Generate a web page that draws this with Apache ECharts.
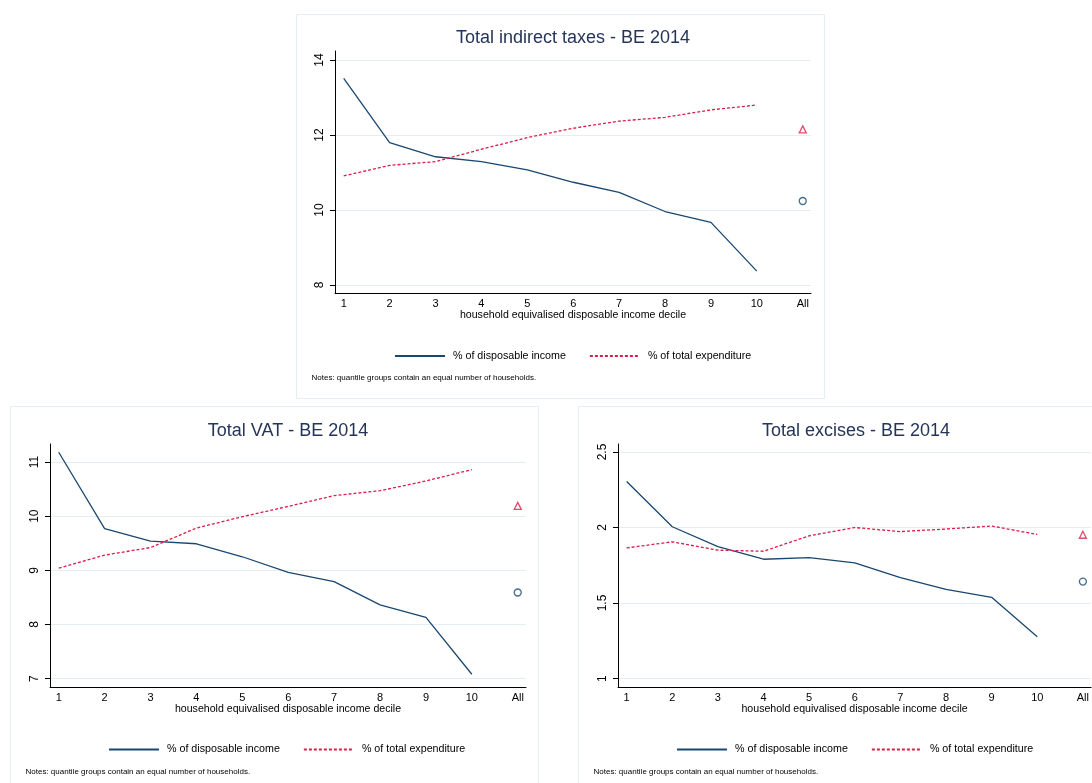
<!DOCTYPE html>
<html>
<head>
<meta charset="utf-8">
<script src="https://cdn.jsdelivr.net/npm/echarts@6/dist/echarts.min.js"></script>
<style>
html,body{margin:0;padding:0;background:#fff;}
#c{width:1092px;height:783px;}
</style>
</head>
<body>
<div id="c"></div>
<script>
// ---- data ----
var deciles = [1, 2, 3, 4, 5, 6, 7, 8, 9, 10];
var xTickValues = [1, 2, 3, 4, 5, 6, 7, 8, 9, 10, 11];
var xTickLabels = ['1', '2', '3', '4', '5', '6', '7', '8', '9', '10', 'All'];
var allPosition = 11;

var titles = ['Total indirect taxes - BE 2014', 'Total VAT - BE 2014', 'Total excises - BE 2014'];
var legendNames = ['% of disposable income', '% of total expenditure'];
var xAxisTitle = 'household equivalised disposable income decile';
var noteText = 'Notes: quantile groups contain an equal number of households.';

var indirectIncome = [13.51, 11.80, 11.42, 11.29, 11.07, 10.74, 10.47, 9.96, 9.67, 8.37];
var indirectExpend = [10.91, 11.19, 11.29, 11.62, 11.93, 12.18, 12.37, 12.47, 12.67, 12.80];
var indirectAllIncome = 10.24;
var indirectAllExpend = 12.15;
var indirectYTicks = [8, 10, 12, 14];

var vatIncome = [11.18, 9.77, 9.54, 9.49, 9.25, 8.96, 8.79, 8.36, 8.13, 7.08];
var vatExpend = [9.04, 9.28, 9.42, 9.78, 9.99, 10.18, 10.38, 10.47, 10.65, 10.86];
var vatAllIncome = 8.59;
var vatAllExpend = 10.19;
var vatYTicks = [7, 8, 9, 10, 11];

var excIncome = [2.305, 2.005, 1.874, 1.79, 1.80, 1.766, 1.668, 1.59, 1.538, 1.277];
var excExpend = [1.865, 1.905, 1.85, 1.843, 1.945, 2.0, 1.973, 1.99, 2.01, 1.954];
var excAllIncome = 1.642;
var excAllExpend = 1.952;
var excYTicks = [1, 1.5, 2, 2.5];

// ---- layout / style ----
var FONT = '"Liberation Sans", Arial, Helvetica, sans-serif';
var NAVY = '#1a476f';
var RED = '#d81e4a';
var GRID = '#e4edf0';
var FRAME = '#e6eef1';

var panels = [
  {px: 296, py: 14, gl: 335, gt: 51, gh: 242, ymin: 7.787, ymax: 14.24, ticks: indirectYTicks,
   inc: indirectIncome, exp: indirectExpend, ai: indirectAllIncome, ae: indirectAllExpend},
  {px: 10, py: 406, gl: 50, gt: 444, gh: 243, ymin: 6.844, ymax: 11.333, ticks: vatYTicks,
   inc: vatIncome, exp: vatExpend, ai: vatAllIncome, ae: vatAllExpend},
  {px: 578, py: 406, gl: 618, gt: 444, gh: 243, ymin: 0.944, ymax: 2.553, ticks: excYTicks,
   inc: excIncome, exp: excExpend, ai: excAllIncome, ae: excAllExpend}
];
var GW = 476;

function pairs(xs, ys) { return xs.map(function (x, i) { return [x, ys[i]]; }); }

var grid = [], xAxis = [], yAxis = [], series = [], title = [], legend = [], graphic = [];

panels.forEach(function (p, i) {
  grid.push({left: p.gl, top: p.gt, width: GW, height: p.gh, containLabel: false});
  xAxis.push({
    type: 'value', gridIndex: i, min: 0.81, max: 11.18,
    axisLine: {show: true, lineStyle: {color: '#000', width: 1}},
    axisTick: {show: false},
    splitLine: {show: false},
    axisLabel: {
      customValues: xTickValues, margin: 5, fontSize: 11, color: '#000', fontFamily: FONT,
      formatter: function (v) { var k = xTickValues.indexOf(v); return k >= 0 ? xTickLabels[k] : ''; }
    },
    name: xAxisTitle, nameLocation: 'middle', nameGap: 17,
    nameTextStyle: {fontSize: 10.6, color: '#000', fontFamily: FONT}
  });
  yAxis.push({
    type: 'value', gridIndex: i, min: p.ymin, max: p.ymax,
    axisLine: {show: true, lineStyle: {color: '#000', width: 1}},
    axisTick: {show: true, customValues: p.ticks, length: 5, inside: false, lineStyle: {color: '#000'}},
    splitLine: {show: true, lineStyle: {color: GRID, width: 1}},
    axisLabel: {customValues: p.ticks, rotate: 90, margin: 9, fontSize: 12, color: '#000', fontFamily: FONT,
      formatter: function (v) { return String(v); }}
  });
  series.push({
    name: legendNames[0], type: 'line', xAxisIndex: i, yAxisIndex: i,
    data: pairs(deciles, p.inc), symbol: 'none', silent: true,
    lineStyle: {color: NAVY, width: 1.3}, itemStyle: {color: NAVY}
  });
  series.push({
    name: legendNames[1], type: 'line', xAxisIndex: i, yAxisIndex: i,
    data: pairs(deciles, p.exp), symbol: 'none', silent: true,
    lineStyle: {color: RED, width: 1.3, type: [3, 2]}, itemStyle: {color: RED}
  });
  series.push({
    name: 'All income', type: 'scatter', xAxisIndex: i, yAxisIndex: i,
    data: [[allPosition, p.ai]], symbol: 'circle', symbolSize: 7, silent: true,
    itemStyle: {color: '#fff', borderColor: NAVY, borderWidth: 1.3}
  });
  series.push({
    name: 'All expenditure', type: 'scatter', xAxisIndex: i, yAxisIndex: i,
    data: [[allPosition, p.ae]], symbol: 'triangle', symbolSize: 7, silent: true,
    itemStyle: {color: '#fff', borderColor: RED, borderWidth: 1.3}
  });
  title.push({
    text: titles[i], left: p.gl + GW / 2, top: p.py + (i === 0 ? 15.5 : 16.5), textAlign: 'center', padding: 0,
    textStyle: {fontSize: 18, fontWeight: 'normal', color: '#25355a', fontFamily: FONT}
  });
  legend.push({
    data: legendNames, left: p.px + 98, top: p.py + (i === 0 ? 336.5 : 338), orient: 'horizontal',
    itemWidth: 50, itemHeight: 10, itemGap: 23, padding: 0, selectedMode: false,
    itemStyle: {opacity: 0},
    textStyle: {fontSize: 10.7, color: '#000', fontFamily: FONT, padding: [0, 0, 0, 3]}
  });
  graphic.push({
    type: 'rect', silent: true,
    shape: {x: p.px + 0.5, y: p.py + 0.5, width: 528, height: 384},
    style: {fill: 'none', stroke: FRAME, lineWidth: 1}
  });
  graphic.push({
    type: 'text', silent: true, x: p.px + 15.5, y: p.py + (i === 0 ? 364 : 365.7),
    style: {text: noteText, fontSize: 8, fill: '#000', fontFamily: FONT, verticalAlign: 'middle', align: 'left'}
  });
});

var chart = echarts.init(document.getElementById('c'), null, {renderer: 'canvas'});
chart.setOption({
  animation: false,
  backgroundColor: '#fff',
  title: title,
  legend: legend,
  grid: grid,
  xAxis: xAxis,
  yAxis: yAxis,
  series: series,
  graphic: graphic
});
</script>
</body>
</html>
